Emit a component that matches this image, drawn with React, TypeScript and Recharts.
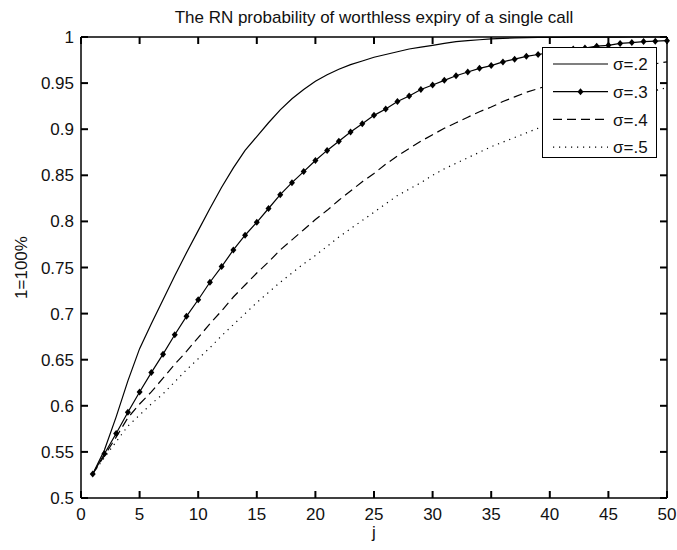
import { LineChart, Line, XAxis, YAxis, Legend, ReferenceDot } from "recharts";

const FONT = '"Liberation Sans", Arial, Helvetica, sans-serif';

// j = 1..50
const jValues = [
  1, 2, 3, 4, 5, 6, 7, 8, 9, 10, 11, 12, 13, 14, 15, 16, 17, 18, 19, 20, 21, 22, 23, 24, 25,
  26, 27, 28, 29, 30, 31, 32, 33, 34, 35, 36, 37, 38, 39, 40, 41, 42, 43, 44, 45, 46, 47, 48, 49, 50,
];

const sigma2 = [
  0.526, 0.552, 0.588, 0.627, 0.662, 0.689, 0.715, 0.741, 0.766, 0.79,
  0.814, 0.837, 0.858, 0.877, 0.892, 0.907, 0.921, 0.933, 0.943, 0.952,
  0.959, 0.965, 0.97, 0.974, 0.978, 0.981, 0.984, 0.987, 0.989, 0.991,
  0.993, 0.995, 0.996, 0.997, 0.998, 0.9985, 0.999, 0.9993, 0.9995, 0.9996,
  0.9997, 0.9998, 0.9998, 0.9999, 0.9999, 0.9999, 1, 1, 1, 1,
];

const sigma3 = [
  0.526, 0.548, 0.57, 0.593, 0.615, 0.636, 0.656, 0.677, 0.697, 0.715,
  0.734, 0.751, 0.769, 0.785, 0.799, 0.814, 0.829, 0.842, 0.854, 0.866,
  0.877, 0.887, 0.897, 0.906, 0.915, 0.922, 0.93, 0.936, 0.943, 0.948,
  0.953, 0.958, 0.962, 0.966, 0.969, 0.973, 0.976, 0.979, 0.981, 0.983,
  0.985, 0.987, 0.988, 0.99, 0.991, 0.993, 0.994, 0.995, 0.9955, 0.996,
];

const sigma4 = [
  0.526, 0.546, 0.566, 0.587, 0.602, 0.615, 0.63, 0.645, 0.659, 0.674,
  0.689, 0.703, 0.718, 0.731, 0.744, 0.756, 0.769, 0.78, 0.791, 0.802,
  0.812, 0.823, 0.833, 0.843, 0.852, 0.862, 0.871, 0.879, 0.887, 0.894,
  0.901, 0.907, 0.913, 0.919, 0.924, 0.93, 0.935, 0.94, 0.944, 0.948,
  0.951, 0.954, 0.957, 0.96, 0.963, 0.965, 0.967, 0.969, 0.971, 0.973,
];

const sigma5 = [
  0.526, 0.544, 0.561, 0.578, 0.59, 0.602, 0.613, 0.626, 0.639, 0.651,
  0.663, 0.676, 0.688, 0.7, 0.712, 0.723, 0.734, 0.744, 0.754, 0.763,
  0.773, 0.783, 0.792, 0.801, 0.81, 0.819, 0.828, 0.835, 0.842, 0.85,
  0.857, 0.863, 0.869, 0.875, 0.881, 0.886, 0.891, 0.896, 0.901, 0.906,
  0.91, 0.915, 0.919, 0.923, 0.927, 0.931, 0.935, 0.938, 0.942, 0.945,
];

const seriesNames = ["σ=.2", "σ=.3", "σ=.4", "σ=.5"];
const xTicks = [0, 5, 10, 15, 20, 25, 30, 35, 40, 45, 50];
const yTicks = [0.5, 0.55, 0.6, 0.65, 0.7, 0.75, 0.8, 0.85, 0.9, 0.95, 1];
const X_MIN = 0;
const X_MAX = 50;
const Y_MIN = 0.5;
const Y_MAX = 1;

const data = jValues.map((j, i) => ({
  j,
  s2: sigma2[i],
  s3: sigma3[i],
  s4: sigma4[i],
  s5: sigma5[i],
}));

const TICK_LEN = 7;
const AXIS_W = 1.5;
const textStyle = { fontFamily: FONT, fontSize: 17, fill: "#111" };
const axisLine = { stroke: "#000", strokeWidth: AXIS_W };

const Diamond = (props: any) => {
  const { cx, cy, index } = props;
  if (cx == null || cy == null) return <g key={index} />;
  return (
    <path
      key={index}
      d={`M${cx},${cy - 3.5}L${cx + 3},${cy}L${cx},${cy + 3.5}L${cx - 3},${cy}Z`}
      fill="#000"
    />
  );
};

// MATLAB-style inward tick mark, placed by the chart's scales
const tickShape = (dx: number, dy: number, w = 2) => (p: any) =>
  (
    <path
      d={`M${p.cx},${p.cy}L${p.cx + dx * TICK_LEN},${p.cy + dy * TICK_LEN}`}
      stroke="#000"
      strokeWidth={w}
      fill="none"
    />
  );
const upTick = tickShape(0, -1);
const downTick = tickShape(0, 1);
const rightTick = tickShape(1, 0);
const leftTick = tickShape(-1, 0);

const series = [
  { key: "s2", dash: undefined as string | undefined, marker: false },
  { key: "s3", dash: undefined, marker: true },
  { key: "s4", dash: "9 5", marker: false },
  { key: "s5", dash: "1.2 4.8", marker: false },
];

const renderLegend = () => (
  <div style={{ width: 113, height: 109, background: "#fff", border: "1.5px solid #000" }}>
    <svg width={113} height={109} style={{ display: "block" }}>
      {seriesNames.map((name, i) => {
        const y = 16 + i * 27.7;
        const s = series[i];
        return (
          <g key={name}>
            <line x1={10} x2={65} y1={y} y2={y} stroke="#000" strokeWidth={1.2} strokeDasharray={s.dash} />
            {s.marker && <Diamond cx={37.5} cy={y} index={i} />}
            <text x={70} y={y} dy="0.36em" style={textStyle}>
              {name}
            </text>
          </g>
        );
      })}
    </svg>
  </div>
);

export default function App() {
  return (
    <div style={{ position: "relative", width: 677, height: 550, background: "#fff" }}>
      <style>{"body{margin:0}"}</style>
      <div
        style={{
          position: "absolute",
          top: 9,
          left: 81,
          width: 586,
          textAlign: "center",
          fontFamily: FONT,
          fontSize: 17,
          lineHeight: "17px",
          color: "#111",
        }}
      >
        The RN probability of worthless expiry of a single call
      </div>
      <LineChart width={677} height={550} data={data} margin={{ top: 37, right: 10, bottom: 0, left: 0 }}>
        <XAxis
          dataKey="j"
          type="number"
          domain={[X_MIN, X_MAX]}
          ticks={xTicks}
          interval={0}
          height={52}
          axisLine={axisLine}
          tickLine={false}
          tickSize={0}
          tickMargin={10}
          tick={textStyle}
          label={{ value: "j", position: "center", dy: 8, style: textStyle }}
        />
        <YAxis
          type="number"
          domain={[Y_MIN, Y_MAX]}
          ticks={yTicks}
          interval={0}
          width={81}
          axisLine={axisLine}
          tickLine={false}
          tickSize={0}
          tickMargin={7}
          tick={textStyle}
          label={{ value: "1=100%", angle: -90, position: "center", dx: -20, style: textStyle }}
        />
        {xTicks.map((t) => (
          <ReferenceDot key={`b${t}`} x={t} y={Y_MIN} r={1} ifOverflow="visible" shape={upTick} />
        ))}
        {xTicks.map((t) => (
          <ReferenceDot key={`t${t}`} x={t} y={Y_MAX} r={1} ifOverflow="visible" shape={downTick} />
        ))}
        {yTicks.map((t) => (
          <ReferenceDot key={`l${t}`} x={X_MIN} y={t} r={1} ifOverflow="visible" shape={rightTick} />
        ))}
        {yTicks.map((t) => (
          <ReferenceDot key={`r${t}`} x={X_MAX} y={t} r={1} ifOverflow="visible" shape={leftTick} />
        ))}
        {/* top and right edges of the box */}
        <ReferenceDot x={X_MIN} y={Y_MAX} r={1} ifOverflow="visible" shape={tickShape(586 / TICK_LEN, 0, AXIS_W)} />
        <ReferenceDot x={X_MAX} y={Y_MAX} r={1} ifOverflow="visible" shape={tickShape(0, 461 / TICK_LEN, AXIS_W)} />
        {series.map((s) => (
          <Line
            key={s.key}
            dataKey={s.key}
            type="linear"
            stroke="#000"
            strokeWidth={1.2}
            strokeDasharray={s.dash}
            dot={s.marker ? Diamond : false}
            activeDot={false}
            isAnimationActive={false}
          />
        ))}
        <Legend
          layout="vertical"
          align="center"
          verticalAlign="middle"
          content={renderLegend}
          wrapperStyle={{ left: 542, top: 47, width: "auto", height: "auto" }}
        />
      </LineChart>
    </div>
  );
}
